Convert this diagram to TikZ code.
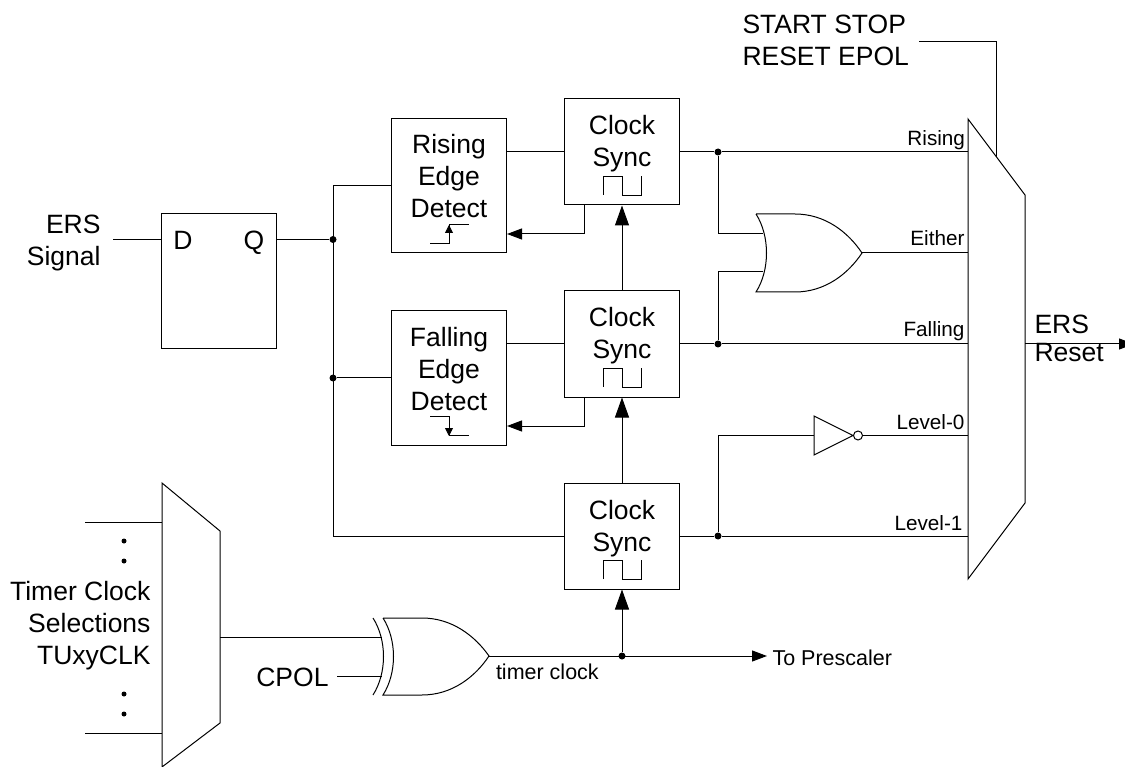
\documentclass[tikz,border=0pt]{standalone}
\usepackage{fontspec}
\setmainfont{Liberation Sans}
\usetikzlibrary{arrows.meta}
\begin{document}
\begin{tikzpicture}[x=1pt, y=-1pt, line width=1pt, line join=miter, >={Triangle[length=15pt,width=11pt]},
  bigtip/.style={-{Triangle[length=20pt,width=14pt]}},
  icontip/.style={-{Triangle[length=8pt,width=8pt]}},
  bigtext/.style={inner sep=0pt, font=\fontsize{26.5}{32}\selectfont, align=center},
  smalltext/.style={inner sep=0pt, font=\fontsize{20.7}{24}\selectfont, anchor=base east},
  tinytext/.style={inner sep=0pt, font=\fontsize{21.5}{24}\selectfont, anchor=base west},
  syncbox/.style={draw, bigtext, minimum width=115pt, minimum height=106pt, text height=60pt, text depth=30pt},
  edgebox/.style={draw, bigtext, minimum width=115pt, minimum height=134pt, text height=94pt, text depth=30pt},
  junction/.style={circle, fill=black, inner sep=0pt, minimum size=7pt},
  pulse/.style={line width=0.8pt}]
\useasboundingbox (0,0) rectangle (1125,767);
\node[draw, inner sep=0pt, minimum width=115.5pt, minimum height=135pt] (dff) at (219,281.5) {};
\node[bigtext, anchor=base] (dlabel) at (183,250) {D}; \node[bigtext, anchor=base] (qlabel) at (254,250) {Q};
\node[bigtext, anchor=base east, align=right] (erssignal) at (101,265.5) {ERS\\Signal};
\coordinate (ersin) at (113,239.5); \coordinate (dffd) at (dff.west |- ersin); \coordinate (dffq) at (dff.east |- ersin);
\draw (ersin) -- (dffd);
\node[edgebox] (rising) at (449,186) {Rising\\Edge\\Detect};
\node[edgebox] (falling) at (449,378) {Falling\\Edge\\Detect};
\node[syncbox] (syncr) at (622,152) {Clock\\Sync};
\node[syncbox] (syncf) at (622,344) {Clock\\Sync};
\node[syncbox] (syncl) at (622,536) {Clock\\Sync};
\foreach \sb in {syncr,syncf,syncl}
  \draw[pulse] ([shift={(-19,43)}]\sb.center) -- ++(0,-19) -- ++(19,0) -- ++(0,19) -- ++(19,0) -- ++(0,-19);
\draw[pulse] (430,243.5) -- (449,243.5) -- (449,224.5) -- (469,224.5); \draw[pulse, icontip] (449,243.5) -- (449,225);
\draw[pulse] (430,416.5) -- (449,416.5) -- (449,435.5) -- (469,435.5); \draw[pulse, icontip] (449,416.5) -- (449,436);
\node[junction] (jq) at (333,239.5) {}; \node[junction] (jf) at (333,378) {};
\coordinate (busr) at (333,186); \coordinate (busl) at (333,536);
\draw (dffq) -- (jq); \draw (rising.west |- busr) -- (busr) -- (busl) -- (syncl.west); \draw (jf) -- (falling.west);
\draw (rising.east |- syncr.west) -- (syncr.west); \draw (falling.east |- syncf.west) -- (syncf.west);
\coordinate (fbr) at (584,234); \coordinate (fbf) at (584,426);
\draw[->] (fbr |- syncr.south) -- (fbr) -- (rising.east |- fbr);
\draw[->] (fbf |- syncf.south) -- (fbf) -- (falling.east |- fbf);
\draw[bigtip] (syncf.north) -- (syncr.south); \draw[bigtip] (syncl.north) -- (syncf.south);
\coordinate (muxa) at (968,119); \coordinate (muxb) at (1025,195); \coordinate (muxc) at (1025,503); \coordinate (muxd) at (968,579);
\draw (muxa) -- (muxb) -- (muxc) -- (muxd) -- cycle;
\node[junction] (jr) at (718,152) {}; \node[junction] (jm) at (718,344) {}; \node[junction] (jb) at (718,536) {};
\draw (syncr.east) -- (jr) -- (muxa |- jr); \draw (syncf.east) -- (jm) -- (muxa |- jm); \draw (syncl.east) -- (jb) -- (muxa |- jb);
\node[smalltext] (lrising) at (965.5,146) {Rising}; \node[smalltext] (leither) at (965,245.5) {Either}; \node[smalltext] (lfalling) at (965,337) {Falling};
\node[smalltext] (llevelz) at (965,429) {Level-0}; \node[smalltext] (llevelo) at (963,530) {Level-1};
\draw (756,214) -- (795,214) .. controls (825,214) and (848,232) .. (862,253) .. controls (848,274) and (825,292) .. (795,292) -- (756,292) .. controls (770,270) and (770,236) .. (756,214);
\coordinate (ortop) at (763,234); \coordinate (orbot) at (763,272); \coordinate (orout) at (862,253);
\draw (jr) |- (ortop); \draw (jm) |- (orbot); \draw (orout) -- (muxa |- orout);
\draw (814,416) -- (853,435.5) -- (814,455) -- cycle;
\node[draw, circle, inner sep=0pt, minimum size=9pt, fill=white] (bubble) at (858,435.5) {};
\coordinate (invin) at (814,435.5);
\draw (jb) |- (invin); \draw (bubble.east) -- (muxa |- bubble);
\coordinate (ctlend) at (996,157); \coordinate (ctlcorner) at (996,42); \coordinate (ctlstart) at (919,42);
\draw (ctlstart) -- (ctlcorner) -- (ctlend);
\node[bigtext, anchor=base west, align=left, font=\fontsize{26.5}{32.7}\selectfont] (ctltext) at (742,66) {START STOP\\RESET EPOL};
\coordinate (ersout) at (1134,344); \draw[->] (muxb |- ersout) -- (ersout);
\node[bigtext, anchor=base west] (ersreset) at (1034,334) {ERS}; \node[bigtext, anchor=base west] (ersresetb) at (1034,362) {Reset};
\coordinate (lma) at (162,483); \coordinate (lmb) at (220,531); \coordinate (lmc) at (220,723); \coordinate (lmd) at (162,767);
\draw (lma) -- (lmb) -- (lmc) -- (lmd) -- cycle;
\coordinate (intop) at (85,522); \coordinate (inbot) at (85,733);
\draw (intop) -- (lma |- intop); \draw (inbot) -- (lma |- inbot);
\foreach \dy in {541,561,694,714} \fill (124,\dy) circle (2.5pt);
\node[bigtext, anchor=base east, align=right] (timersel) at (151,664) {Timer Clock\\Selections\\TUxyCLK};
\draw (383,618) -- (422,618) .. controls (452,618) and (475,636) .. (489,656) .. controls (475,677) and (452,695) .. (422,695) -- (383,695) .. controls (397,673) and (397,640) .. (383,618);
\draw (373,618) .. controls (387,640) and (387,673) .. (373,695);
\coordinate (xora) at (382,637); \coordinate (xorb) at (382,676); \coordinate (xorout) at (489,656);
\draw (lmb |- xora) -- (xora);
\node[bigtext, anchor=base east] (cpol) at (329,686) {CPOL}; \draw (cpol.east |- xorb) ++(8,0) coordinate (cpolout) -- (xorb);
\node[junction] (jt) at (622,656) {};
\coordinate (presc) at (767,656);
\draw[->] (xorout) -- (presc);
\draw[bigtip] (jt) -- (syncl.south);
\node[tinytext] (tclock) at (495.5,679) {timer clock};
\node[tinytext] (toprescaler) at (772,665) {To Prescaler};
\end{tikzpicture}
\end{document}
